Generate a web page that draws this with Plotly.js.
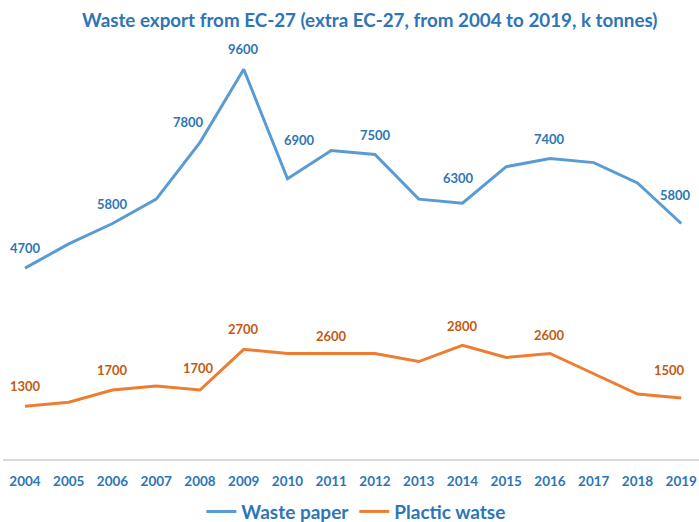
<!DOCTYPE html>
<html>
<head>
<meta charset="utf-8">
<script src="https://cdn.plot.ly/plotly-3.0.1.min.js"></script>
<style>html,body{margin:0;padding:0;background:#fff;}#chart{width:699px;height:522px;}</style>
</head>
<body>
<div id="chart"></div>
<script>
// ---- data ----
const years = [2004, 2005, 2006, 2007, 2008, 2009, 2010, 2011, 2012, 2013, 2014, 2015, 2016, 2017, 2018, 2019];
const wastePaper = [4700, 5300, 5800, 6400, 7800, 9600, 6900, 7600, 7500, 6400, 6300, 7200, 7400, 7300, 6800, 5800];
const plasticWaste = [1300, 1400, 1700, 1800, 1700, 2700, 2600, 2600, 2600, 2400, 2800, 2500, 2600, 2100, 1600, 1500];
const paperLabelYears = [2004, 2006, 2008, 2009, 2010, 2012, 2014, 2016, 2019];
const plasticLabelYears = [2004, 2006, 2008, 2009, 2011, 2014, 2016, 2019];
const seriesNames = ["Waste paper", "Plactic watse"];
const chartTitle = "Waste export from EC-27 (extra EC-27, from 2004 to 2019, k tonnes)";

// ---- styles ----
const FONT = "Lato, 'Open Sans', sans-serif";
const blueLine = "#5b9bd5", orangeLine = "#ed7d31";
const blueText = "#2e75b6", orangeText = "#c55a11";
// label shifts (pixels) keyed by year
const paperShift = {2008: [-12, 20], 2010: [12, 39], 2014: [-4, 25], 2019: [-6, 29]};
const plasticShift = {2008: [-2, 22], 2011: [0, 17], 2014: [0, 19], 2016: [0, 18], 2019: [-12, 28]};

function makeLabels(labelYears, values, color, shifts) {
  return labelYears.map(function (yr) {
    const v = values[years.indexOf(yr)];
    const s = shifts[yr] || [0, 20];
    return {
      x: yr, y: v, xref: "x", yref: "y", text: String(v), showarrow: false,
      xshift: s[0], yshift: s[1],
      font: {family: FONT, size: 13, color: color, weight: 700}
    };
  });
}

const traces = [
  {x: years, y: wastePaper, name: seriesNames[0], type: "scatter", mode: "lines",
   line: {color: blueLine, width: 3}},
  {x: years, y: plasticWaste, name: seriesNames[1], type: "scatter", mode: "lines",
   line: {color: orangeLine, width: 3}}
];

const layout = {
  width: 699, height: 522,
  paper_bgcolor: "#ffffff", plot_bgcolor: "#ffffff",
  margin: {l: 3, r: 0, t: 53, b: 63},
  title: {
    text: chartTitle, xref: "container", yref: "container",
    x: 0.529, xanchor: "center", y: 0.96, yanchor: "middle",
    font: {family: FONT, size: 18.8, color: blueText, weight: 700}
  },
  xaxis: {
    range: [2004 - 0.503, 2019 + 0.406],
    tickvals: years, ticktext: years.map(String),
    showgrid: false, zeroline: false,
    showline: true, linecolor: "#d9d9d9", linewidth: 1.5,
    ticks: "", ticklabelstandoff: 9,
    tickfont: {family: FONT, size: 13.5, color: blueText, weight: 700}
  },
  yaxis: {
    range: [0, 10000], visible: false, showgrid: false, zeroline: false
  },
  showlegend: true,
  legend: {
    orientation: "h", xref: "paper", yref: "container",
    x: 0.507, xanchor: "center", y: 0.02, yanchor: "middle",
    font: {family: FONT, size: 19, color: blueText, weight: 700},
    itemwidth: 30, bgcolor: "rgba(0,0,0,0)"
  },
  annotations: makeLabels(paperLabelYears, wastePaper, blueText, paperShift)
    .concat(makeLabels(plasticLabelYears, plasticWaste, orangeText, plasticShift))
};

Plotly.newPlot("chart", traces, layout, {displayModeBar: false, staticPlot: true});
</script>
</body>
</html>
